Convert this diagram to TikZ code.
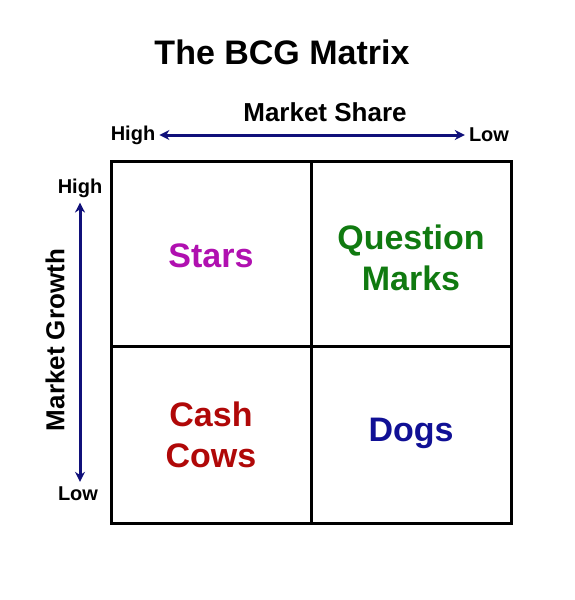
\documentclass[tikz,border=0pt]{standalone}
\usepackage{fontspec}
\setmainfont{Liberation Sans}
\usetikzlibrary{arrows.meta}

\definecolor{axisBlue}{HTML}{10107A}
\definecolor{starsPink}{HTML}{B010B0}
\definecolor{questGreen}{HTML}{107A10}
\definecolor{cowsRed}{HTML}{B00808}
\definecolor{dogsBlue}{HTML}{101095}

\begin{document}
\begin{tikzpicture}[x=1pt,y=-1pt,
    axisText/.style={font=\fontsize{20}{22}\selectfont\bfseries, inner sep=1pt},
    cellText/.style={font=\fontsize{34}{41}\selectfont\bfseries, align=center},
    axisArrow/.style={draw=axisBlue, line width=3pt, {Stealth[length=10pt,width=10pt]}-{Stealth[length=10pt,width=10pt]}}]
    \useasboundingbox (0,0) rectangle (575,600);

    % Define the positions of the grid
    \coordinate (topLeft) at (111,161);
    \coordinate (botRight) at (511,523);
    \coordinate (midTop) at (311,161);
    \coordinate (midBot) at (311,523);
    \coordinate (midLeft) at (111,346);
    \coordinate (midRight) at (511,346);

    % Draw the title
    \node (title) at (282,52) {\fontsize{34}{38}\selectfont\bfseries The BCG Matrix};

    % Draw the market share axis
    \node (shareLabel) at (325,112) {\fontsize{26}{28}\selectfont\bfseries Market Share};
    \node[axisText] (shareHigh) at (133,135) {High};
    \node[axisText] (shareLow) at (489,135) {Low};
    \draw[axisArrow] ([xshift=3pt]shareHigh.east) -- ([xshift=-3pt]shareLow.west);

    % Draw the market growth axis
    \node[axisText] (growthHigh) at (80,188) {High};
    \node[axisText] (growthLow) at (78,494) {Low};
    \node[rotate=90] (growthLabel) at (55,340) {\fontsize{26}{28}\selectfont\bfseries Market Growth};
    \draw[axisArrow] ([yshift=-4pt]growthHigh.south) -- ([yshift=4pt]growthHigh.south |- growthLow.north);

    % Draw the grid
    \draw[line width=3pt] (topLeft) rectangle (botRight);
    \draw[line width=3pt] (midTop) -- (midBot);
    \draw[line width=3pt] (midLeft) -- (midRight);

    % Draw the cell labels
    \node[cellText, text=starsPink] (stars) at (211,256) {Stars};
    \node[cellText, text=questGreen] (question) at (411,258) {Question\\Marks};
    \node[cellText, text=cowsRed] (cows) at (211,435) {Cash\\Cows};
    \node[cellText, text=dogsBlue] (dogs) at (411,433) {Dogs};

\end{tikzpicture}
\end{document}
